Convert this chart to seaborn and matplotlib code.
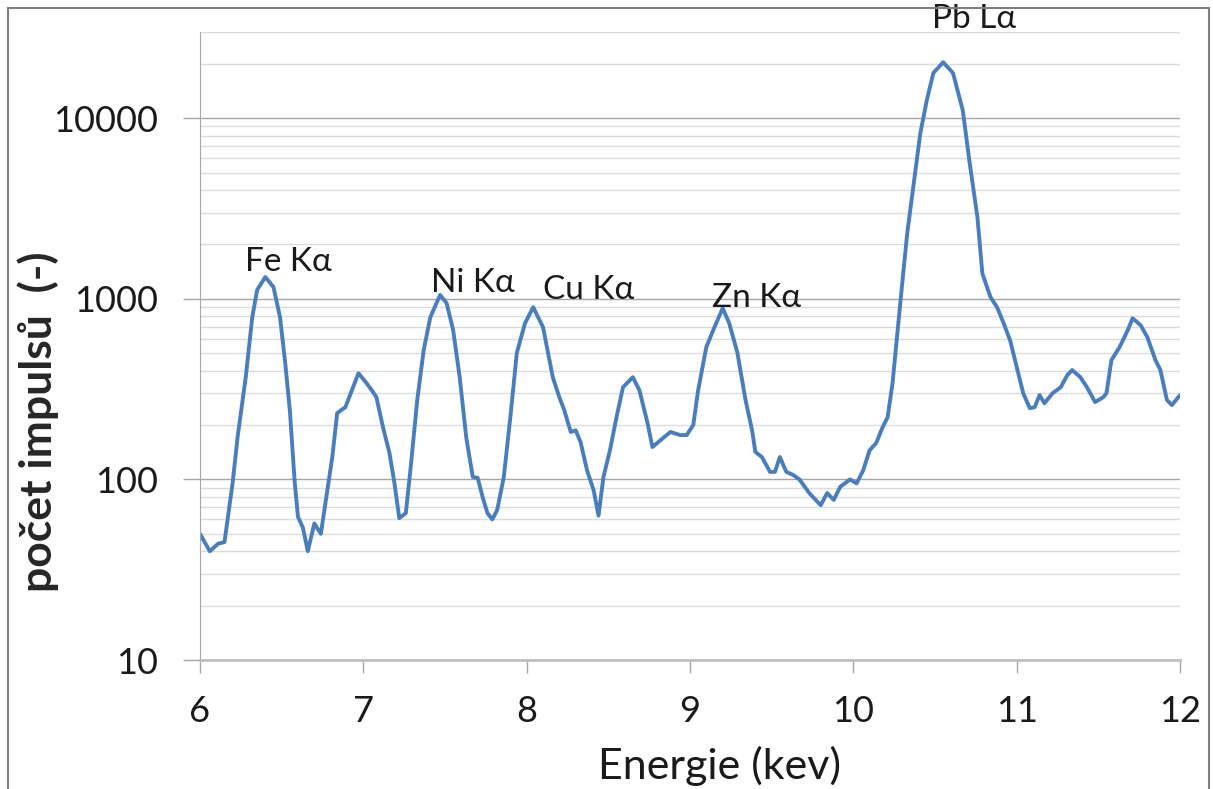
import numpy as np
import pandas as pd
import seaborn as sns
import matplotlib.pyplot as plt
from matplotlib.ticker import LogLocator, FixedLocator, NullFormatter
from matplotlib.patches import Rectangle

# spectrum
energy = [6.00, 6.06, 6.11, 6.15, 6.20, 6.23, 6.28, 6.32, 6.35, 6.40, 6.45, 6.49, 6.52, 6.55, 6.58,
          6.60, 6.63, 6.66, 6.70, 6.74, 6.78, 6.81, 6.84, 6.89, 6.93, 6.97, 7.02, 7.06, 7.08, 7.12,
          7.16, 7.19, 7.22, 7.26, 7.29, 7.33, 7.37, 7.41, 7.47, 7.51, 7.55, 7.59, 7.63, 7.67, 7.70,
          7.73, 7.76, 7.79, 7.82, 7.86, 7.90, 7.94, 7.99, 8.04, 8.10, 8.16, 8.20, 8.23, 8.27, 8.30,
          8.33, 8.37, 8.41, 8.44, 8.47, 8.51, 8.55, 8.59, 8.65, 8.69, 8.74, 8.77, 8.82, 8.88, 8.94,
          8.98, 9.02, 9.05, 9.10, 9.15, 9.20, 9.24, 9.29, 9.34, 9.38, 9.40, 9.44, 9.49, 9.52, 9.55,
          9.59, 9.63, 9.67, 9.73, 9.80, 9.84, 9.88, 9.92, 9.98, 10.02, 10.06, 10.10, 10.14, 10.18,
          10.21, 10.24, 10.29, 10.33, 10.37, 10.41, 10.45, 10.49, 10.55, 10.61, 10.67, 10.71, 10.76,
          10.79, 10.84, 10.88, 10.92, 10.96, 11.00, 11.04, 11.08, 11.11, 11.14, 11.17, 11.22, 11.27,
          11.31, 11.34, 11.39, 11.43, 11.48, 11.53, 11.55, 11.58, 11.63, 11.68, 11.71, 11.76, 11.80,
          11.85, 11.88, 11.92, 11.95, 12.00]
counts = [50, 40, 44, 45, 96, 171, 368, 790, 1120, 1320, 1160, 790, 457, 242, 96,
          62, 54, 40, 57, 50, 87, 133, 233, 251, 312, 387, 341, 304, 285, 195,
          140, 96, 61, 65, 117, 275, 522, 790, 1050, 946, 670, 368, 171, 103, 102,
          80, 65, 60, 68, 103, 221, 503, 733, 898, 697, 368, 285, 242, 183, 187,
          161, 112, 87, 63, 103, 145, 221, 324, 368, 312, 205, 151, 165, 183, 176,
          176, 200, 312, 540, 697, 887, 733, 503, 275, 187, 142, 133, 110, 110, 133,
          110, 106, 100, 84, 72, 84, 77, 91, 100, 95, 112, 145, 159, 195,
          221, 341, 1000, 2306, 4370, 8240, 12600, 17800, 20400, 17800, 11070, 5850, 2820,
          1380, 1020, 898, 733, 588, 420, 300, 248, 251, 293, 264, 300, 324,
          378, 403, 368, 324, 268, 285, 300, 457, 540, 670, 780, 712, 613,
          457, 403, 275, 258, 293]

peak_labels = ['Fe Kα', 'Ni Kα', 'Cu Kα', 'Zn Kα', 'Pb Lα']
peak_x = [6.54, 7.67, 8.38, 9.41, 10.74]
peak_y = [1600, 1220, 1120, 1010, 35500]

df = pd.DataFrame({'energie': energy, 'pocet': counts})

sns.set_style('white')
plt.rcParams['font.family'] = ['Lato', 'DejaVu Sans']

fig = plt.figure(figsize=(12.13, 7.89), dpi=100)
ax = fig.add_axes([200 / 1213, 1 - 660 / 789, 980 / 1213, 628 / 789])

sns.lineplot(data=df, x='energie', y='pocet', ax=ax, color='#4a7ebb', linewidth=2.8)
ax.lines[0].set_solid_joinstyle('round')
ax.lines[0].set_solid_capstyle('round')

ax.set_yscale('log')
ax.set_xlim(6, 12)
ax.set_ylim(10, 30000)

ax.yaxis.set_major_locator(FixedLocator([10, 100, 1000, 10000]))
ax.yaxis.set_minor_locator(LogLocator(base=10, subs=np.arange(2, 10)))
ax.yaxis.set_minor_formatter(NullFormatter())
ax.set_yticklabels(['10', '100', '1000', '10000'])
ax.set_xticks(range(6, 13))

ax.grid(which='major', axis='y', color='#a6a6a6', linewidth=1.0)
ax.grid(which='minor', axis='y', color='#dcdcdc', linewidth=1.0)
ax.grid(which='major', axis='x', visible=False)

for s in ['top', 'right']:
    ax.spines[s].set_visible(False)
ax.spines['left'].set_color('#a6a6a6')
ax.spines['bottom'].set_color('#c0c0c0')
ax.spines['bottom'].set_linewidth(2)

ax.tick_params(axis='y', which='major', length=12, width=1, color='#a6a6a6', left=True,
               labelsize=26, pad=18, labelcolor='#1a1a1a')
ax.tick_params(axis='y', which='minor', length=0)
ax.tick_params(axis='x', which='major', length=9, width=1, color='#a6a6a6', bottom=True,
               labelsize=26, pad=16, direction='out', labelcolor='#1a1a1a')
ax.set_xlabel('')
ax.set_ylabel('')

for lab, px, py in zip(peak_labels, peak_x, peak_y):
    ax.text(px, py, lab, fontsize=24, ha='center', va='center', clip_on=False, color='#1a1a1a')

fig.text(38 / 1213, 1 - 422 / 789, 'počet impulsů  (-)', rotation=90, fontsize=32,
         fontweight='bold', ha='center', va='center')
fig.text(720 / 1213, 3 / 789, 'Energie (kev)', fontsize=31, ha='center', va='bottom',
         color='#1a1a1a')

fig.patches.append(Rectangle((8 / 1213, -0.05), 1201 / 1213, 1.05 - 8 / 789, transform=fig.transFigure,
                             fill=False, edgecolor='#7f7f7f', linewidth=1.5))

fig.savefig('out.png', dpi=100)
